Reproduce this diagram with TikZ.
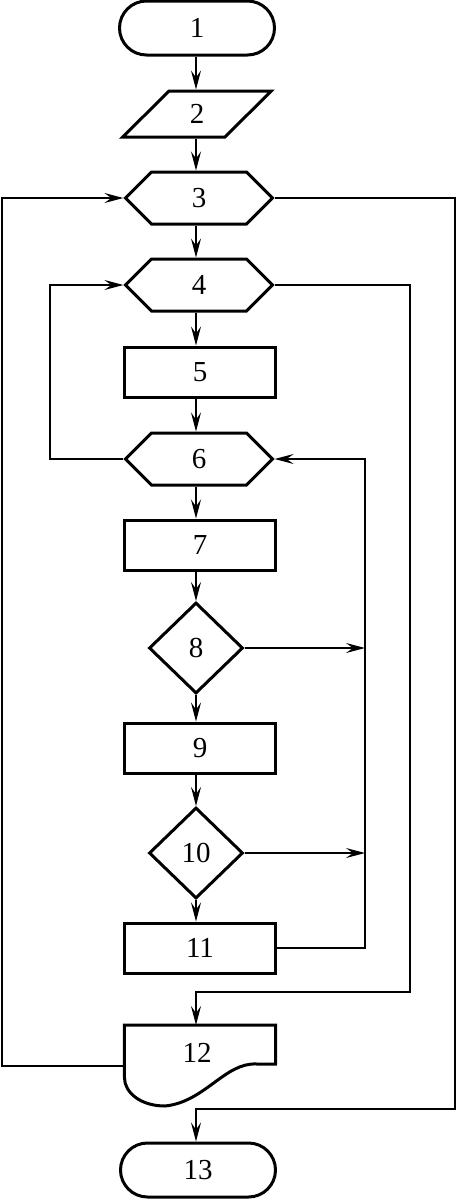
\documentclass[tikz,border=0pt]{standalone}
\usepackage{fontspec}
\setmainfont{Liberation Serif}
\usetikzlibrary{shapes.geometric,shapes.symbols,arrows.meta}
\begin{document}
\begin{tikzpicture}[x=1pt,y=-1pt,
  lbl/.style={font=\fontsize{29}{32}\selectfont, inner sep=0pt},
  shp/.style={lbl, draw, line width=3pt},
  term/.style={shp, rounded corners=27pt, minimum width=155pt, minimum height=54pt},
  io/.style={shp, trapezium, trapezium left angle=58, trapezium right angle=122, trapezium stretches=true, minimum width=149pt, minimum height=46pt},
  hexa/.style={shp, signal, signal to=east and west, signal pointer angle=90, minimum width=147pt, minimum height=52pt},
  proc/.style={shp, rectangle, minimum width=151pt, minimum height=50pt},
  dec/.style={shp, diamond, minimum width=94pt, minimum height=91pt},
  arr/.style={line width=1.3pt, -{Stealth[length=19pt,width=10pt,inset=7pt]}}]
\useasboundingbox (0,0) rectangle (457,1200);
\node[term] (n1) at (197,28) {1};
\node[io] (n2) at (197,114) {2};
\node[hexa] (n3) at (199,198) {3};
\node[hexa] (n4) at (199,285) {4};
\node[proc] (n5) at (200,372) {5};
\node[hexa] (n6) at (199,459) {6};
\node[proc] (n7) at (200,545) {7};
\node[dec] (n8) at (196,648) {8};
\node[proc] (n9) at (200,748) {9};
\node[dec] (n10) at (196,853) {10};
\node[proc] (n11) at (200,948) {11};
\node[minimum width=151pt, minimum height=81pt, anchor=north, inner sep=0pt] (n12) at (200,1025) {};
\node[lbl] (t12) at (197,1053) {12};
\draw[line width=3pt, line join=miter] (n12.north west) -- (n12.north east) -- (275.5,1064) -- (257,1064)
  .. controls (225,1062) and (205,1102) .. (165,1106)
  .. controls (140,1106) and (124.5,1092) .. (124.5,1078) -- cycle;
\node[term] (n13) at (198,1170) {13};
% vertical flow
\coordinate (ax) at (196,0);
\draw[arr] (n1.south -| ax) -- (n2.north -| ax);
\draw[arr] (n2.south -| ax) -- (n3.north -| ax);
\draw[arr] (n3.south -| ax) -- (n4.north -| ax);
\draw[arr] (n4.south -| ax) -- (n5.north -| ax);
\draw[arr] (n5.south -| ax) -- (n6.north -| ax);
\draw[arr] (n6.south -| ax) -- (n7.north -| ax);
\draw[arr] (n7.south -| ax) -- (n8.north);
\draw[arr] (n8.south) -- (n9.north -| ax);
\draw[arr] (n9.south -| ax) -- (n10.north);
\draw[arr] (n10.south) -- (n11.north -| ax);
% loop coordinates
\coordinate (c8) at (365,648);
\coordinate (c10) at (365,853);
\coordinate (c11) at (365,948);
\coordinate (c6l) at (50,459);
\coordinate (c4r) at (410,992);
\coordinate (c3r) at (455,1109);
\coordinate (c12l) at (2,1066);
\draw[arr] (n8.east) -- (c8);
\draw[arr] (n10.east) -- (c10);
\draw[arr] (n11.east |- c11) -- (c11) |- (n6.east);
\draw[arr] (n6.west) -- (c6l) |- (n4.west);
\draw[arr] (n4.east) -| (c4r) -- (c4r -| ax) -- (n12.north -| ax);
\draw[arr] (n3.east) -| (c3r) -- (c3r -| ax) -- (n13.north -| ax);
\draw[arr] (n12.west |- c12l) -- (c12l) |- (n3.west);
\end{tikzpicture}
\end{document}
